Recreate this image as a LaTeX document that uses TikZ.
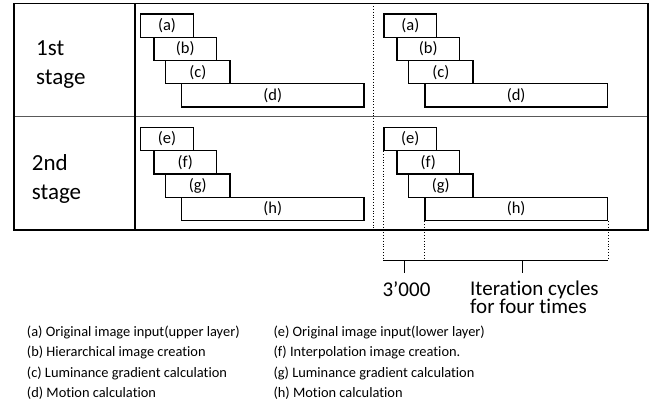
\documentclass[tikz,border=0pt]{standalone}
\usepackage{fontspec}
\setmainfont{Carlito}[Ligatures=NoCommon]
\begin{document}
\begin{tikzpicture}[x=1pt,y=-1pt,
  stepbox/.style={draw=black,line width=1.3pt,fill=white,rectangle,inner sep=0pt,anchor=north west,minimum height=23.3pt,font=\fontsize{16.5}{18}\selectfont},
  stagelbl/.style={anchor=base west,align=left,inner sep=0pt,font=\fontsize{23}{29}\selectfont},
  legend/.style={anchor=base west,inner sep=0pt,font=\fontsize{14.4}{17}\selectfont},
  dotline/.style={line width=0.8pt,dotted},
  frame/.style={line width=1.5pt,black}]
\useasboundingbox (0,0) rectangle (651,409);
% frame
\coordinate (tl) at (14,3.5);
\coordinate (br) at (648,230);
\draw[line width=1pt,black!65] (14,117) -- (648,117);
\draw[frame] (tl) rectangle (br);
\draw[frame] (135,3.5) -- (135,230);
\draw[dotline] (373,3.5) -- (373,230);
% stage labels
\node[stagelbl] (s1) at (36,85) {1st\\stage};
\node[stagelbl] (s2) at (31.7,200) {2nd\\stage};
% left boxes stage 1
\node[stepbox,minimum width=52.7pt] (a1) at (140,13.3) {\raisebox{-3pt}{(a)}};
\node[stepbox,minimum width=62.7pt] (b1) at (153.3,36.6) {\raisebox{-3pt}{(b)}};
\node[stepbox,minimum width=64.3pt] (c1) at (165,59.9) {\raisebox{-3pt}{(c)}};
\node[stepbox,minimum width=182.3pt] (d1) at (181,83.2) {\raisebox{-3pt}{(d)}};
% right boxes stage 1
\node[stepbox,minimum width=52.7pt] (a2) at (383.3,13.3) {\raisebox{-3pt}{(a)}};
\node[stepbox,minimum width=62.7pt] (b2) at (396.3,36.6) {\raisebox{-3pt}{(b)}};
\node[stepbox,minimum width=64.3pt] (c2) at (408,59.9) {\raisebox{-3pt}{(c)}};
\node[stepbox,minimum width=182.3pt] (d2) at (424.3,83.2) {\raisebox{-3pt}{(d)}};
% left boxes stage 2
\node[stepbox,minimum width=52.7pt] (e1) at (140,126.7) {\raisebox{-3pt}{(e)}};
\node[stepbox,minimum width=62.7pt] (f1) at (153.3,150) {\raisebox{-3pt}{(f)}};
\node[stepbox,minimum width=64.3pt] (g1) at (165,173.3) {\raisebox{-3pt}{(g)}};
\node[stepbox,minimum width=182.3pt] (h1) at (181,196.6) {\raisebox{-3pt}{(h)}};
% right boxes stage 2
\node[stepbox,minimum width=52.7pt] (e2) at (383.3,126.7) {\raisebox{-3pt}{(e)}};
\node[stepbox,minimum width=62.7pt] (f2) at (396.3,150) {\raisebox{-3pt}{(f)}};
\node[stepbox,minimum width=64.3pt] (g2) at (408,173.3) {\raisebox{-3pt}{(g)}};
\node[stepbox,minimum width=182.3pt] (h2) at (424.3,196.6) {\raisebox{-3pt}{(h)}};
% bracket
\coordinate (p1) at (e2.south west |- 0,260);
\coordinate (p2) at (h2.south west |- 0,260);
\coordinate (p3) at (h2.south east |- 0,260);
\draw[dotline] (e2.south west) -- (p1);
\draw[dotline] (h2.south west) -- (p2);
\draw[dotline] (h2.south east) -- (p3);
\draw[line width=0.9pt] (p1) -- (p3);
\coordinate (t1) at (404,260);
\coordinate (t2) at (522.7,260);
\node[anchor=base,inner sep=0pt,font=\fontsize{21}{18}\selectfont] (n3000) at (406.5,296) {3’000};
\node[anchor=base west,align=left,inner sep=0pt,font=\fontsize{21}{18}\selectfont] (iter) at (470,313.5) {Iteration cycles\\for four times};
\draw[line width=0.9pt] (t1) -- (t1 |- 0,273);
\draw[line width=0.9pt] (t2) -- (t2 |- 0,273);
% legend
\node[legend] (la) at (26.7,336) {(a) Original image input(upper layer)};
\node[legend] (lb) at (26.7,356.6) {(b) Hierarchical image creation};
\node[legend] (lc) at (26.7,377) {(c) Luminance gradient calculation};
\node[legend] (ld) at (26.7,397.3) {(d) Motion calculation};
\node[legend] (le) at (273.3,336) {(e) Original image input(lower layer)};
\node[legend] (lf) at (273.3,356.6) {(f) Interpolation image creation.};
\node[legend] (lg) at (273.3,377) {(g) Luminance gradient calculation};
\node[legend] (lh) at (273.3,397.3) {(h) Motion calculation};
\end{tikzpicture}
\end{document}
